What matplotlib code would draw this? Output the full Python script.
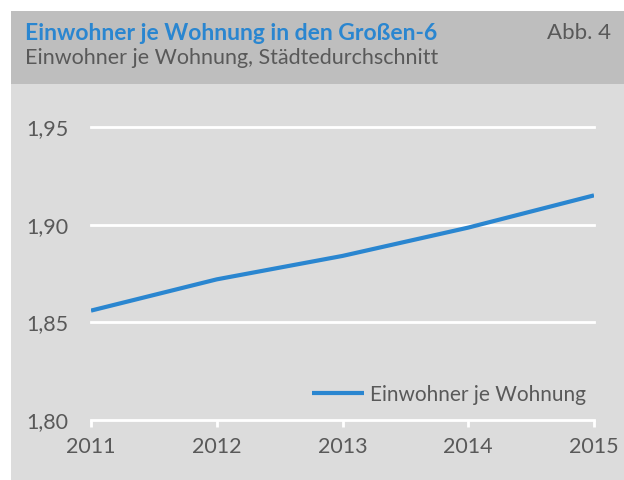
import matplotlib.pyplot as plt
from matplotlib.patches import Rectangle

# Data
years = [2011, 2012, 2013, 2014, 2015]
einwohner_je_wohnung = [1.856, 1.872, 1.884, 1.8985, 1.915]
yticks = [1.80, 1.85, 1.90, 1.95]
ytick_labels = ['1,80', '1,85', '1,90', '1,95']

blue = '#2a86d0'
grey_text = '#595959'

plt.rcParams['font.family'] = ['Lato', 'DejaVu Sans']

fig = plt.figure(figsize=(6.24, 4.8), dpi=100)
fig.patch.set_facecolor('white')

# Header and panel backgrounds
fig.add_artist(Rectangle((11 / 624, 1 - 84 / 480), 1, 73 / 480,
                         transform=fig.transFigure, facecolor='#bebebe', edgecolor='none', zorder=0))
fig.add_artist(Rectangle((11 / 624, 0), 1, 1 - 84 / 480,
                         transform=fig.transFigure, facecolor='#dcdcdc', edgecolor='none', zorder=0))

fig.text(25 / 624, 1 - 33 / 480, 'Einwohner je Wohnung in den Großen-6', color=blue,
         fontsize=16.5, fontweight='bold', va='center', ha='left')
fig.text(25 / 624, 1 - 58 / 480, 'Einwohner je Wohnung, Städtedurchschnitt', color=grey_text,
         fontsize=15.5, va='center', ha='left')
fig.text(611 / 624, 1 - 33 / 480, 'Abb. 4', color=grey_text,
         fontsize=16, va='center', ha='right')

ax = fig.add_axes([91 / 624, 1 - 420 / 480, 503 / 624, 293 / 480])
ax.set_facecolor('none')
ax.plot(years, einwohner_je_wohnung, color=blue, linewidth=3, label='Einwohner je Wohnung',
        solid_capstyle='butt', zorder=3)

ax.set_xlim(years[0], years[-1])
ax.set_ylim(yticks[0], yticks[-1])
ax.set_xticks(years)
ax.set_xticklabels([str(y) for y in years])
ax.set_yticks(yticks)
ax.set_yticklabels(ytick_labels)

for y in yticks[1:]:
    ax.axhline(y, color='white', linewidth=2, zorder=1, clip_on=False)

for s in ['top', 'right', 'left']:
    ax.spines[s].set_visible(False)
ax.spines['bottom'].set_color('white')
ax.spines['bottom'].set_linewidth(2)

ax.tick_params(axis='x', direction='out', length=5, width=2, color='white',
               labelcolor=grey_text, labelsize=15.5, pad=7)
ax.tick_params(axis='y', length=0, labelcolor=grey_text, labelsize=15.5, pad=16)

leg = ax.legend(loc='lower right', frameon=False, fontsize=15, labelcolor=grey_text,
                handlelength=2.5, handletextpad=0.3, bbox_to_anchor=(1.022, -0.012))

fig.savefig('out.png', dpi=100)
